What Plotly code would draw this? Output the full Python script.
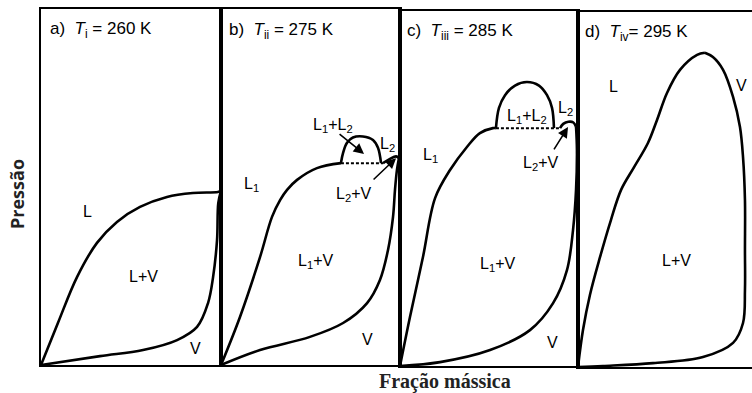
import plotly.graph_objects as go

# ---------------------------------------------------------------
# Phase envelopes (normalised mass fraction vs normalised pressure)
# ---------------------------------------------------------------

# a) T = 260 K
A_BUBBLE_X = [0, 0.094, 0.200, 0.311, 0.422, 0.550, 0.700, 0.844, 0.983, 1.0]
A_BUBBLE_P = [0, 0.118, 0.247, 0.343, 0.402, 0.444, 0.472, 0.483, 0.486, 0.489]
A_DEW_X = [0, 0.328, 0.567, 0.756, 0.867, 0.928, 0.956, 0.978, 0.985, 1.0]
A_DEW_P = [0, 0.025, 0.042, 0.070, 0.107, 0.174, 0.247, 0.351, 0.455, 0.489]

# b) T = 275 K
B_L1_X = [0, 0.106, 0.218, 0.285, 0.330, 0.369, 0.425, 0.536, 0.670]
B_L1_P = [0, 0.135, 0.303, 0.416, 0.463, 0.492, 0.520, 0.553, 0.567]
B_DOME_X = [0.670, 0.682, 0.704, 0.737, 0.793, 0.849, 0.877, 0.894]
B_DOME_P = [0.567, 0.596, 0.624, 0.639, 0.642, 0.632, 0.610, 0.567]
B_L2_X = [0.905, 0.944, 0.978, 0.994]
B_L2_P = [0.567, 0.579, 0.586, 0.581]
B_DEW_X = [0, 0.218, 0.497, 0.682, 0.816, 0.888, 0.933, 0.961, 0.972, 0.983, 0.994]
B_DEW_P = [0, 0.042, 0.079, 0.118, 0.174, 0.239, 0.323, 0.416, 0.492, 0.548, 0.581]
B_3PH_X = [0.670, 0.905]
B_3PH_P = 0.567

# c) T = 285 K
C_L1_X = [0, 0.056, 0.129, 0.197, 0.281, 0.376, 0.449, 0.522, 0.539]
C_L1_P = [0, 0.138, 0.307, 0.473, 0.552, 0.617, 0.656, 0.670, 0.670]
C_DOME_X = [0.539, 0.556, 0.590, 0.646, 0.713, 0.781, 0.826, 0.854, 0.865]
C_DOME_P = [0.670, 0.727, 0.763, 0.790, 0.800, 0.790, 0.763, 0.727, 0.670]
C_L2_X = [0.899, 0.917, 0.946, 0.974, 0.989]
C_L2_P = [0.670, 0.682, 0.688, 0.686, 0.674]
C_DEW_X = [0, 0.225, 0.506, 0.730, 0.860, 0.938, 0.972, 0.989, 0.994, 0.989]
C_DEW_P = [0, 0.011, 0.045, 0.101, 0.177, 0.270, 0.383, 0.496, 0.608, 0.674]
C_3PH_X = [0.539, 0.899]
C_3PH_P = 0.670

# d) T = 295 K
D_BUBBLE_X = [0, 0.028, 0.067, 0.124, 0.185, 0.242, 0.315, 0.393, 0.444,
              0.500, 0.573, 0.669, 0.713]
D_BUBBLE_P = [0, 0.104, 0.203, 0.310, 0.414, 0.499, 0.563, 0.631, 0.696,
              0.772, 0.837, 0.879, 0.885]
D_DEW_X = [0, 0.140, 0.421, 0.702, 0.871, 0.927, 0.938, 0.938, 0.938,
           0.927, 0.910, 0.871, 0.815, 0.758, 0.713]
D_DEW_P = [0, 0.003, 0.011, 0.028, 0.068, 0.124, 0.217, 0.330, 0.470,
           0.592, 0.676, 0.761, 0.837, 0.873, 0.885]

PANEL_TITLES = [
    "a)  <i>T</i><sub>i</sub> = 260 K",
    "b)  <i>T</i><sub>ii</sub> = 275 K",
    "c)  <i>T</i><sub>iii</sub> = 285 K",
    "d)  <i>T</i><sub>iv</sub>= 295 K",
]

W, H = 752, 393
# panel frames in pixels: left, right, top, bottom
FRAMES = [(41, 221, 9, 365), (221, 400, 9, 365), (400, 578, 11, 366), (578, 752, 12, 367)]
XMAX = [1.0, 1.0, 1.0, 174 / 178]

fig = go.Figure()

CURVE = dict(color="black", width=2.6)


def add_curve(xs, ps, k, dash=None, width=None, shape="spline"):
    line = dict(CURVE)
    if dash:
        line["dash"] = dash
    if width:
        line["width"] = width
    fig.add_trace(go.Scatter(
        x=xs, y=ps, mode="lines", line=line, line_shape=shape,
        xaxis=f"x{k}" if k > 1 else "x", yaxis=f"y{k}" if k > 1 else "y",
        hoverinfo="skip", showlegend=False))


add_curve(A_BUBBLE_X, A_BUBBLE_P, 1)
add_curve(A_DEW_X, A_DEW_P, 1)

add_curve(B_L1_X, B_L1_P, 2)
add_curve(B_DOME_X, B_DOME_P, 2)
add_curve(B_L2_X, B_L2_P, 2)
add_curve(B_DEW_X, B_DEW_P, 2)
add_curve(B_3PH_X, [B_3PH_P] * 2, 2, dash="3px,2px", width=2, shape="linear")

add_curve(C_L1_X, C_L1_P, 3)
add_curve(C_DOME_X, C_DOME_P, 3)
add_curve(C_L2_X, C_L2_P, 3)
add_curve(C_DEW_X, C_DEW_P, 3)
add_curve(C_3PH_X, [C_3PH_P] * 2, 3, dash="3px,2px", width=2, shape="linear")

add_curve(D_BUBBLE_X, D_BUBBLE_P, 4)
add_curve(D_DEW_X, D_DEW_P, 4)

layout = dict(
    width=W, height=H, margin=dict(l=0, r=0, t=0, b=0),
    paper_bgcolor="white", plot_bgcolor="white", showlegend=False,
)

for i, ((l, r, t, b), xmax) in enumerate(zip(FRAMES, XMAX)):
    k = i + 1
    sx = "" if k == 1 else str(k)
    layout[f"xaxis{sx}"] = dict(
        domain=[l / W, r / W], range=[0, xmax], showgrid=False, zeroline=False,
        showticklabels=False, ticks="", showline=True, linecolor="black",
        linewidth=2, mirror=True, fixedrange=True,
        anchor=f"y{sx}")
    layout[f"yaxis{sx}"] = dict(
        domain=[1 - b / H, 1 - t / H], range=[0, 1], showgrid=False,
        zeroline=False, showticklabels=False, ticks="", showline=True,
        linecolor="black", linewidth=2, mirror=(k != 4), fixedrange=True,
        anchor=f"x{sx}")

fig.update_layout(**layout)

LABEL_FONT = dict(family="Liberation Sans, Arial, sans-serif", size=16, color="black")

# region labels: (panel, text, x, p)
LABELS = [
    (1, "L", 0.256, 0.430), (1, "L+V", 0.567, 0.250), (1, "V", 0.861, 0.045),
    (2, "L<sub>1</sub>", 0.172, 0.506), (2, "L<sub>1</sub>+V", 0.530, 0.290),
    (2, "V", 0.821, 0.073), (2, "L<sub>1</sub>+L<sub>2</sub>", 0.626, 0.672),
    (2, "L<sub>2</sub>", 0.932, 0.618), (2, "L<sub>2</sub>+V", 0.742, 0.480),
    (3, "L<sub>1</sub>", 0.173, 0.594), (3, "L<sub>1</sub>+L<sub>2</sub>", 0.716, 0.702),
    (3, "L<sub>2</sub>", 0.931, 0.724), (3, "L<sub>2</sub>+V", 0.790, 0.571),
    (3, "L<sub>1</sub>+V", 0.549, 0.287), (3, "V", 0.854, 0.065),
    (4, "L", 0.197, 0.789), (4, "V", 0.921, 0.794), (4, "L+V", 0.556, 0.301),
]

annotations = []
for k, txt, x, p in LABELS:
    sx = "" if k == 1 else str(k)
    annotations.append(dict(
        x=x, y=p, xref=f"x{sx}", yref=f"y{sx}", text=txt, showarrow=False,
        font=LABEL_FONT, xanchor="center", yanchor="middle"))

# pointer arrows: (panel, head x, head p, tail x, tail p)
ARROWS = [
    (2, 0.799, 0.593, 0.654, 0.652),
    (2, 0.978, 0.581, 0.844, 0.517),
    (3, 0.944, 0.673, 0.860, 0.606),
]
for k, hx, hp, tx, tp in ARROWS:
    sx = str(k)
    annotations.append(dict(
        x=hx, y=hp, ax=tx, ay=tp, xref=f"x{sx}", yref=f"y{sx}",
        axref=f"x{sx}", ayref=f"y{sx}", text="", showarrow=True,
        arrowhead=2, arrowsize=1.3, arrowwidth=1.6, arrowcolor="black",
        standoff=0, startstandoff=0))

TITLE_POS = [(48, 30), (227, 31), (405, 32), (583, 33)]
for (px, py), txt in zip(TITLE_POS, PANEL_TITLES):
    annotations.append(dict(
        x=px / W, y=1 - py / H, xref="paper", yref="paper", text=txt,
        showarrow=False, xanchor="left", yanchor="middle",
        font=dict(family="Liberation Sans, Arial, sans-serif", size=17, color="black")))

annotations.append(dict(
    x=17 / W, y=1 - 194 / H, xref="paper", yref="paper", text="<b>Pressão</b>",
    showarrow=False, textangle=-90, xanchor="center", yanchor="middle",
    font=dict(family="Open Sans, sans-serif", size=18, color="#222")))
annotations.append(dict(
    x=445 / W, y=1 - 381 / H, xref="paper", yref="paper", text="<b>Fração mássica</b>",
    showarrow=False, xanchor="center", yanchor="middle",
    font=dict(family="Liberation Serif, Times New Roman, serif", size=20, color="#222")))

fig.update_layout(annotations=annotations)

fig.write_html("out.html")
